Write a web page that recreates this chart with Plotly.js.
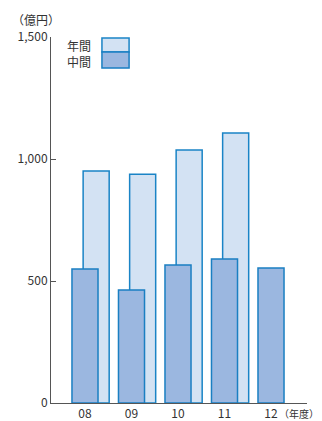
<!DOCTYPE html>
<html>
<head>
<meta charset="utf-8">
<script src="https://cdn.plot.ly/plotly-3.0.1.min.js"></script>
<style>html,body{margin:0;padding:0;background:#fff;}#chart{width:322px;height:421px;}</style>
</head>
<body>
<div id="chart"></div>
<script>
const categories = ['08', '09', '10', '11', '12'];
const annualValues = [951, 938, 1037, 1107, null];
const interimValues = [549, 463, 566, 590, 553];
const seriesNames = ['年間', '中間'];
const yTickValues = [0, 500, 1000, 1500];
const yTickLabels = ['0', '500', '1,000', '1,500'];

const xPos = categories.map((c, i) => i);
const FONT = '"Noto Sans CJK JP", "Noto Sans", sans-serif';
const TXT = '#333333';

const traces = [
  {
    type: 'bar', name: seriesNames[0], x: xPos, y: annualValues,
    width: 0.56, offset: -0.04,
    marker: {color: '#d3e2f3', line: {color: '#1a84c6', width: 1.5}},
    showlegend: false, hoverinfo: 'skip'
  },
  {
    type: 'bar', name: seriesNames[1], x: xPos, y: interimValues,
    width: 0.56, offset: -0.28,
    marker: {color: '#9bb7e0', line: {color: '#1a7fc2', width: 1.5}},
    showlegend: false, hoverinfo: 'skip'
  }
];

const layout = {
  width: 322, height: 421,
  margin: {l: 51, r: 15, t: 37, b: 18, pad: 0},
  paper_bgcolor: '#fff', plot_bgcolor: '#fff',
  barmode: 'overlay',
  font: {family: FONT, size: 12, color: TXT},
  xaxis: {
    range: [-0.731, 4.774],
    tickvals: xPos, ticktext: categories,
    ticks: '', showgrid: false, zeroline: false,
    showline: true, linecolor: '#555', linewidth: 1,
    tickfont: {family: FONT, size: 12, color: TXT},
    fixedrange: true
  },
  yaxis: {
    range: [0, 1500],
    tickvals: yTickValues, ticktext: yTickLabels,
    ticks: 'inside', ticklen: 5, tickcolor: '#555', tickwidth: 1,
    showgrid: false, zeroline: false,
    showline: true, linecolor: '#555', linewidth: 1,
    tickfont: {family: FONT, size: 12, color: TXT},
    fixedrange: true
  },
  shapes: [
    {type: 'rect', xref: 'paper', yref: 'paper', x0: 0.199, x1: 0.305, y0: 0.959, y1: 0.997,
     fillcolor: '#d3e2f3', line: {color: '#1a84c6', width: 1.5}},
    {type: 'rect', xref: 'paper', yref: 'paper', x0: 0.199, x1: 0.305, y0: 0.915, y1: 0.959,
     fillcolor: '#9bb7e0', line: {color: '#1a7fc2', width: 1.5}}
  ],
  annotations: [
    {xref: 'paper', yref: 'paper', x: 0.165, y: 0.978, xanchor: 'right', yanchor: 'middle',
     text: seriesNames[0], showarrow: false, font: {family: FONT, size: 12, color: TXT}},
    {xref: 'paper', yref: 'paper', x: 0.165, y: 0.934, xanchor: 'right', yanchor: 'middle',
     text: seriesNames[1], showarrow: false, font: {family: FONT, size: 12, color: TXT}},
    {xref: 'paper', yref: 'paper', x: -0.16, y: 1.049, xanchor: 'left', yanchor: 'middle',
     text: '（億円）', showarrow: false, font: {family: FONT, size: 12, color: TXT}},
    {xref: 'paper', yref: 'paper', x: 1.054, y: -0.03, xanchor: 'right', yanchor: 'middle',
     text: '（年度）', showarrow: false, font: {family: FONT, size: 10, color: TXT}}
  ]
};

Plotly.newPlot('chart', traces, layout, {displayModeBar: false, staticPlot: true});
</script>
</body>
</html>
